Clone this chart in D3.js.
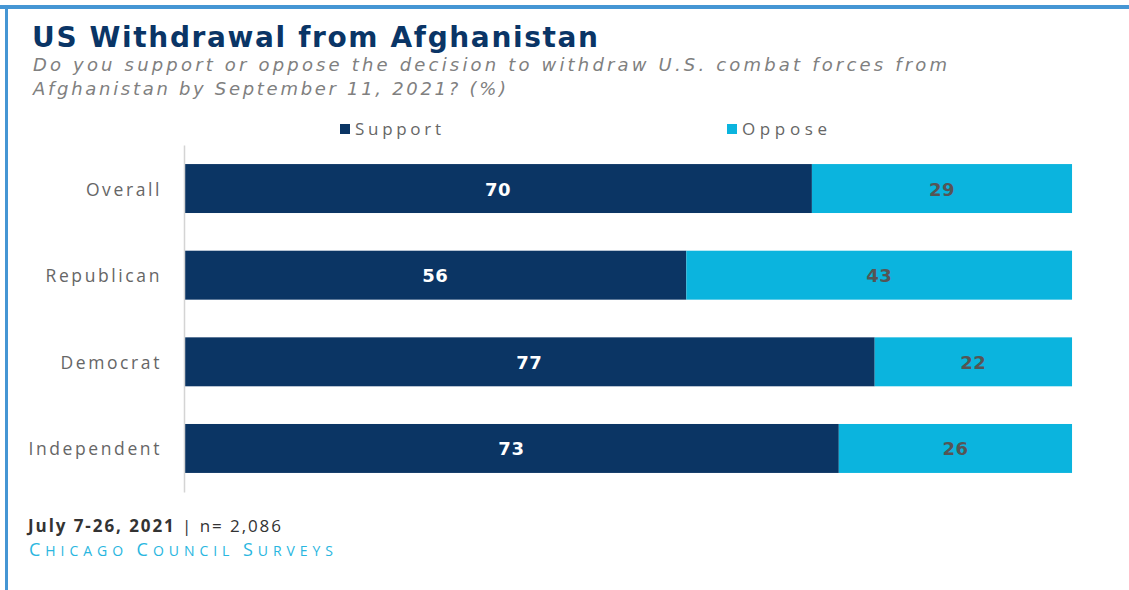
<html>
<script src="https://d3js.org/d3.v7.min.js"></script>
<body style="margin:0;background:#fff;">
<style>
  body { font-family: "Open Sans", sans-serif; }
</style>
<div id="chart"></div>
<script>
  // survey groups and shares (%)
  const groups = ["Overall", "Republican", "Democrat", "Independent"];
  const support = [70, 56, 77, 73];
  const oppose = [29, 43, 22, 26];
  const seriesNames = ["Support", "Oppose"];
  const seriesColors = ["#0b3564", "#0bb4de"];

  const W = 1129, H = 590;
  const svg = d3.select("#chart").append("svg").attr("width", W).attr("height", H);

  // frame (top + left blue rule)
  svg.append("rect").attr("x", 0).attr("y", 5).attr("width", W).attr("height", 4).attr("fill", "#4596d4");
  svg.append("rect").attr("x", 5).attr("y", 5).attr("width", 3).attr("height", H).attr("fill", "#4596d4");

  // titles - the original face is much wider, so stretch the spacing
  svg.append("text").text("US Withdrawal from Afghanistan")
    .attr("x", 32).attr("y", 47)
    .attr("font-family", "DejaVu Sans")
    .attr("font-size", "28px").attr("font-weight", 700).attr("fill", "#0a3566")
    .attr("textLength", 566).attr("lengthAdjust", "spacing");
  const sub = svg.append("text").attr("font-size", "18px").attr("font-style", "italic")
    .attr("font-family", "DejaVu Sans").attr("fill", "#808080");
  sub.append("tspan").attr("x", 33).attr("y", 71).attr("textLength", 914).attr("lengthAdjust", "spacing")
    .text("Do you support or oppose the decision to withdraw U.S. combat forces from");
  sub.append("tspan").attr("x", 33).attr("y", 95).attr("textLength", 473).attr("lengthAdjust", "spacing")
    .text("Afghanistan by September 11, 2021? (%)");

  // scales
  const x = d3.scaleLinear().domain([0, 100]).range([184, 1081]);
  const y = d3.scaleBand().domain(groups).range([145, 492]).paddingInner(0.435).paddingOuter(0.22);

  const rows = groups.map((g, i) => ({ g: g, vals: [support[i], oppose[i]] }));
  const stacked = d3.stack().keys([0, 1]).value((d, k) => d.vals[k])(rows);

  // legend
  const legX = [340, 727];
  const legW = [86, 85];
  seriesNames.forEach((s, i) => {
    svg.append("rect").attr("x", legX[i]).attr("y", 124).attr("width", 10).attr("height", 10).attr("fill", seriesColors[i]);
    svg.append("text").text(s).attr("x", legX[i] + 15).attr("y", 135)
      .attr("font-size", "17px").attr("fill", "#666")
      .attr("textLength", legW[i]).attr("lengthAdjust", "spacing");
  });

  // bars
  stacked.forEach((layer, k) => {
    const g = svg.append("g");
    g.selectAll("rect").data(layer).enter().append("rect")
      .attr("x", d => x(d[0]))
      .attr("y", d => y(d.data.g))
      .attr("width", d => x(d[1]) - x(d[0]))
      .attr("height", y.bandwidth())
      .attr("fill", seriesColors[k]);
    g.selectAll("text").data(layer).enter().append("text")
      .text(d => d.data.vals[k])
      .attr("x", d => (x(d[0]) + x(d[1])) / 2)
      .attr("y", d => y(d.data.g) + y.bandwidth() / 2 + 7)
      .attr("text-anchor", "middle")
      .attr("font-family", "DejaVu Sans")
      .attr("font-size", "18px").attr("font-weight", 700)
      .attr("letter-spacing", "0.5px")
      .attr("fill", k === 0 ? "#fff" : "#555");
  });

  // axis
  const yAxis = d3.axisLeft(y).tickSize(0).tickPadding(22);
  const ax = svg.append("g").attr("transform", "translate(184,0)").call(yAxis);
  ax.select(".domain").attr("stroke", "#d4d4d4").attr("stroke-width", 1.5);
  ax.selectAll("text").attr("font-size", "17.5px").attr("fill", "#666")
    .attr("font-family", "Open Sans").attr("letter-spacing", "2.6px").attr("dy", "0.4em");

  // footer
  const foot = svg.append("text").attr("x", 28).attr("y", 532).attr("font-size", "17px").attr("fill", "#333")
    .attr("textLength", 253).attr("lengthAdjust", "spacing");
  foot.append("tspan").attr("font-weight", 700).text("July 7-26, 2021");
  foot.append("tspan").text(" | n= 2,086");
  const src = svg.append("text").attr("x", 29).attr("y", 556).attr("fill", "#29b6e0")
    .attr("textLength", 304).attr("lengthAdjust", "spacing");
  [["C", 18], ["HICAGO ", 14], ["C", 18], ["OUNCIL ", 14], ["S", 18], ["URVEYS", 14]].forEach(p => {
    src.append("tspan").attr("font-size", p[1] + "px").text(p[0]);
  });
</script>
</body>
</html>
